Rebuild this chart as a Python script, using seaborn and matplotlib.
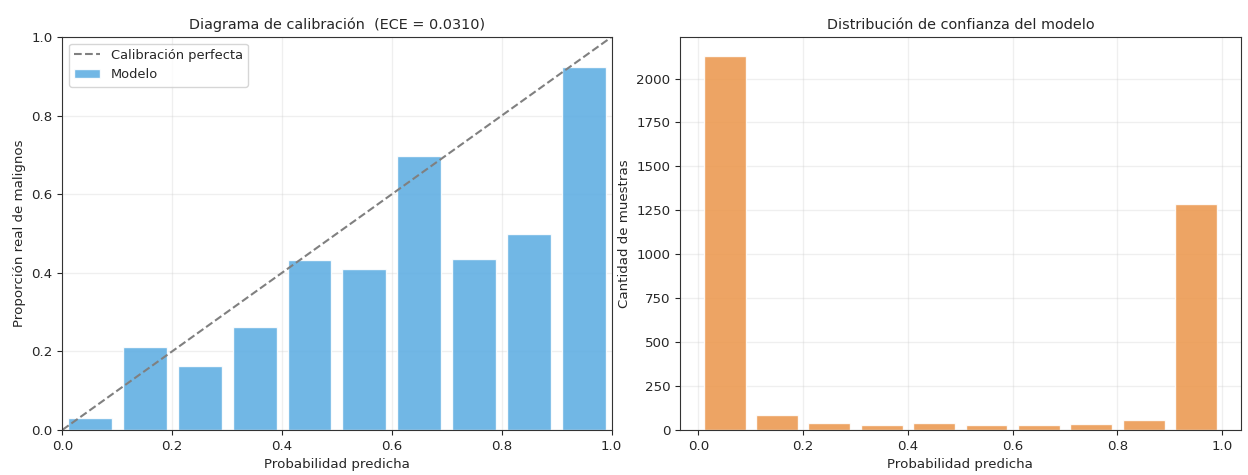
import matplotlib
matplotlib.use("Agg")
import matplotlib.pyplot as plt
import numpy as np
import pandas as pd
import seaborn as sns

# bin centres of the predicted probability
bin_centers = [0.05, 0.15, 0.25, 0.35, 0.45, 0.55, 0.65, 0.75, 0.85, 0.95]
# fraction of malignant cases in each bin
frac_pos = [0.03, 0.21, 0.162, 0.262, 0.432, 0.41, 0.698, 0.435, 0.498, 0.925]
# number of samples in each bin
counts = [2130, 85, 40, 30, 40, 30, 25, 35, 55, 1285]
ece = 0.0310

blue = "#5DADE2"
orange = "#EB984E"

sns.set_theme(style="white")
plt.rcParams['font.family'] = ['DejaVu Sans']
plt.rcParams['axes.edgecolor'] = '#333333'

df = pd.DataFrame({'centro': bin_centers, 'frac': frac_pos, 'n': counts})

fig = plt.figure(figsize=(12.48, 4.75), dpi=100)
ax1 = fig.add_axes([0.050, 0.095, 0.440, 0.827])
ax2 = fig.add_axes([0.545, 0.095, 0.449, 0.827])

# calibration diagram
ax1.plot([0, 1], [0, 1], linestyle='--', color='gray', linewidth=1.5, label='Calibración perfecta')
sns.barplot(data=df, x='centro', y='frac', native_scale=True, width=0.8,
            color=blue, saturation=1, alpha=0.88, label='Modelo', ax=ax1)
ax1.set_xlim(0, 1)
ax1.set_ylim(0, 1)
ax1.set_xticks([0, 0.2, 0.4, 0.6, 0.8, 1.0])
ax1.set_xticklabels(['0.0', '0.2', '0.4', '0.6', '0.8', '1.0'])
ax1.set_yticks([0, 0.2, 0.4, 0.6, 0.8, 1.0])
ax1.set_yticklabels(['0.0', '0.2', '0.4', '0.6', '0.8', '1.0'])
ax1.set_xlabel('Probabilidad predicha', fontsize=9.6)
ax1.set_ylabel('Proporción real de malignos', fontsize=9.6)
ax1.set_title(f'Diagrama de calibración  (ECE = {ece:.4f})', fontsize=10.4)
ax1.grid(True, alpha=0.3)
ax1.legend(loc='upper left', fontsize=9.4)

# confidence distribution
sns.barplot(data=df, x='centro', y='n', native_scale=True, width=0.8,
            color=orange, saturation=1, alpha=0.88, ax=ax2)
ax2.set_xticks([0, 0.2, 0.4, 0.6, 0.8, 1.0])
ax2.set_xticklabels(['0.0', '0.2', '0.4', '0.6', '0.8', '1.0'])
ax2.set_xlim(-0.035, 1.035)
ax2.set_ylim(0, 2236)
ax2.set_xlabel('Probabilidad predicha', fontsize=9.6)
ax2.set_ylabel('Cantidad de muestras', fontsize=9.6)
ax2.set_title('Distribución de confianza del modelo', fontsize=10.4)
ax2.grid(True, alpha=0.3)

for ax in (ax1, ax2):
    ax.tick_params(axis='both', which='major', labelsize=9.6, length=3.5, width=0.8,
                   bottom=True, left=True)
    ax.set_axisbelow(True)
    for s in ax.spines.values():
        s.set_linewidth(0.8)

fig.savefig('out.png', dpi=100)
